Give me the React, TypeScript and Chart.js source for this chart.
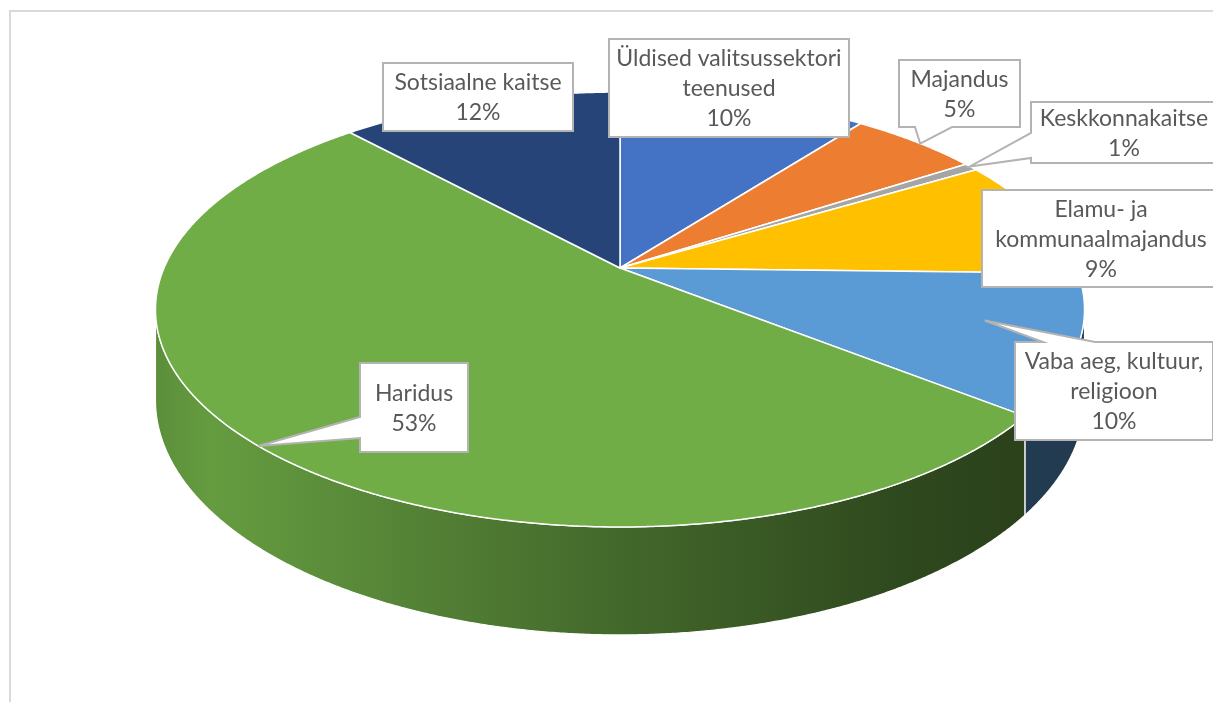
import React, { useEffect, useRef } from 'react';
import { Chart, registerables } from 'chart.js';

Chart.register(...registerables);

// ---- data (shares in %) ----
const categories = [
  'Üldised valitsussektori teenused',
  'Majandus',
  'Keskkonnakaitse',
  'Elamu- ja kommunaalmajandus',
  'Vaba aeg, kultuur, religioon',
  'Haridus',
  'Sotsiaalne kaitse',
];
const shares = [10.4, 5.4, 0.6, 9.0, 10.3, 52.5, 11.8];
const sliceColors = ['#4472C4', '#ED7D31', '#A5A5A5', '#FFC000', '#5B9BD5', '#70AD47', '#264478'];

// ---- layout / styling ----
const TILT = { kx: 1.7538, ky: 0.806, depth: 0.336, persp: 0.1908 };
const SHADE_STOPS: [number, number][] = [
  [0, 0.82], [0.06, 0.9], [0.5, 0.6], [0.8, 0.42], [0.92, 0.38], [1, 0.38],
];

type Callout = {
  x: number; y: number; w: number; h: number;
  side?: 'left' | 'top' | 'bottom';
  b1?: number; b2?: number; tipT?: number; tipR?: number;
};
const callouts: Callout[] = [
  { x: 601, y: 31, w: 240, h: 98 },
  { x: 891, y: 52, w: 121, h: 67, side: 'bottom', b1: 907, b2: 944, tipT: 0.54, tipR: 1.0 },
  { x: 1023, y: 94, w: 186, h: 61, side: 'left', b1: 125, b2: 150, tipT: 0.4, tipR: 1.0 },
  { x: 974, y: 182, w: 238, h: 97 },
  { x: 1007, y: 334, w: 198, h: 98, side: 'top', b1: 1035, b2: 1087, tipT: 0.43, tipR: 0.8 },
  { x: 352, y: 355, w: 108, h: 89, side: 'left', b1: 409, b2: 430, tipT: 0.5, tipR: 1.0 },
  { x: 375, y: 55, w: 190, h: 68 },
];
const LABEL_FONT = '23px Lato';
const LABEL_COLOR = '#595959';
const LINE_H = 30;

function hexToRgb(h: string): [number, number, number] {
  const n = parseInt(h.slice(1), 16);
  return [(n >> 16) & 255, (n >> 8) & 255, n & 255];
}

function project(cx: number, cy: number, R: number, a: number, r: number, dz: number): [number, number] {
  const u = r * Math.cos(a);
  const v = r * Math.sin(a);
  const d = 1 - TILT.persp * v;
  return [cx + (R * TILT.kx * u) / d, cy + (R * TILT.ky * v + dz * R * TILT.depth) / d];
}

function wrapText(ctx: CanvasRenderingContext2D, text: string, maxW: number): string[] {
  const words = text.split(' ');
  const lines: string[] = [];
  let cur = '';
  for (const w of words) {
    const t = cur ? cur + ' ' + w : w;
    if (cur && ctx.measureText(t).width > maxW) {
      lines.push(cur);
      cur = w;
    } else cur = t;
  }
  if (cur) lines.push(cur);
  return lines;
}

const pie3d = {
  id: 'pie3d',
  beforeDatasetsDraw(chart: any) {
    const ctx: CanvasRenderingContext2D = chart.ctx;
    const arcs = chart.getDatasetMeta(0).data;
    if (!arcs.length) return false;
    const { x: cx, y: cy, outerRadius: R } = arcs[0].getProps(['x', 'y', 'outerRadius'], true);
    const colors = chart.data.datasets[0].backgroundColor as string[];
    const p = TILT.persp;
    const lo = Math.asin(p);
    const hi = Math.PI - lo;
    const half = (R * TILT.kx) / Math.sqrt(1 - p * p);
    const xL = cx - half;
    const xR = cx + half;
    ctx.save();
    ctx.lineJoin = 'round';
    // side walls
    arcs.forEach((arc: any, i: number) => {
      const { startAngle, endAngle } = arc.getProps(['startAngle', 'endAngle'], true);
      const s = Math.max(startAngle, lo);
      const e = Math.min(endAngle, hi);
      if (e <= s) return;
      const rgb = hexToRgb(colors[i]);
      const g = ctx.createLinearGradient(xL, 0, xR, 0);
      SHADE_STOPS.forEach(([o, f]) =>
        g.addColorStop(o, `rgb(${Math.round(rgb[0] * f)},${Math.round(rgb[1] * f)},${Math.round(rgb[2] * f)})`)
      );
      const n = Math.max(2, Math.ceil((e - s) / 0.005));
      ctx.beginPath();
      for (let k = 0; k <= n; k++) {
        const a = s + ((e - s) * k) / n;
        const [X, Y] = project(cx, cy, R, a, 1, 0);
        if (k === 0) ctx.moveTo(X, Y);
        else ctx.lineTo(X, Y);
      }
      for (let k = n; k >= 0; k--) {
        const a = s + ((e - s) * k) / n;
        const [X, Y] = project(cx, cy, R, a, 1, 1);
        ctx.lineTo(X, Y);
      }
      ctx.closePath();
      ctx.fillStyle = g;
      ctx.fill();
      ctx.strokeStyle = '#ffffff';
      ctx.lineWidth = 1.2;
      ctx.stroke();
    });
    // top faces
    arcs.forEach((arc: any, i: number) => {
      const { startAngle, endAngle } = arc.getProps(['startAngle', 'endAngle'], true);
      const n = Math.max(2, Math.ceil((endAngle - startAngle) / 0.005));
      ctx.beginPath();
      ctx.moveTo(cx, cy);
      for (let k = 0; k <= n; k++) {
        const a = startAngle + ((endAngle - startAngle) * k) / n;
        const [X, Y] = project(cx, cy, R, a, 1, 0);
        ctx.lineTo(X, Y);
      }
      ctx.closePath();
      ctx.fillStyle = colors[i];
      ctx.fill();
      ctx.strokeStyle = '#ffffff';
      ctx.lineWidth = 1.5;
      ctx.stroke();
    });
    ctx.restore();
    return false;
  },
  afterDraw(chart: any) {
    const ctx: CanvasRenderingContext2D = chart.ctx;
    const arcs = chart.getDatasetMeta(0).data;
    if (!arcs.length) return;
    const { x: cx, y: cy, outerRadius: R } = arcs[0].getProps(['x', 'y', 'outerRadius'], true);
    const values = chart.data.datasets[0].data as number[];
    const total = values.reduce((a, b) => a + b, 0);
    const labels = chart.data.labels as string[];
    ctx.save();
    ctx.font = LABEL_FONT;
    arcs.forEach((arc: any, i: number) => {
      const c = callouts[i];
      if (!c) return;
      const { startAngle, endAngle } = arc.getProps(['startAngle', 'endAngle'], true);
      let tip: [number, number] | null = null;
      if (c.side) {
        const a = startAngle + (endAngle - startAngle) * (c.tipT ?? 0.5);
        tip = project(cx, cy, R, a, c.tipR ?? 1, 0);
      }
      const { x, y, w, h } = c;
      ctx.beginPath();
      ctx.moveTo(x, y);
      if (c.side === 'top' && tip) {
        ctx.lineTo(c.b1!, y);
        ctx.lineTo(tip[0], tip[1]);
        ctx.lineTo(c.b2!, y);
      }
      ctx.lineTo(x + w, y);
      ctx.lineTo(x + w, y + h);
      if (c.side === 'bottom' && tip) {
        ctx.lineTo(c.b2!, y + h);
        ctx.lineTo(tip[0], tip[1]);
        ctx.lineTo(c.b1!, y + h);
      }
      ctx.lineTo(x, y + h);
      if (c.side === 'left' && tip) {
        ctx.lineTo(x, c.b2!);
        ctx.lineTo(tip[0], tip[1]);
        ctx.lineTo(x, c.b1!);
      }
      ctx.closePath();
      ctx.fillStyle = '#ffffff';
      ctx.fill();
      ctx.strokeStyle = '#B3B3B3';
      ctx.lineWidth = 2;
      ctx.lineJoin = 'miter';
      ctx.stroke();

      const lines = wrapText(ctx, labels[i], w - 12);
      lines.push(Math.round((values[i] / total) * 100 + 1e-9) + '%');
      ctx.fillStyle = LABEL_COLOR;
      ctx.textAlign = 'center';
      ctx.textBaseline = 'middle';
      const y0 = y + h / 2 - ((lines.length - 1) * LINE_H) / 2;
      lines.forEach((ln, k) => ctx.fillText(ln, x + w / 2, y0 + k * LINE_H + 1));
    });
    ctx.restore();
  },
};

export default function App() {
  const canvasRef = useRef<HTMLCanvasElement | null>(null);

  useEffect(() => {
    if (!canvasRef.current) return;
    const chart = new Chart(canvasRef.current, {
      type: 'pie',
      data: {
        labels: categories,
        datasets: [
          {
            data: shares,
            backgroundColor: sliceColors,
            borderWidth: 0,
            hoverOffset: 0,
          },
        ],
      },
      options: {
        animation: false,
        responsive: true,
        maintainAspectRatio: false,
        events: [],
        layout: { padding: { left: 312, right: 293, top: 0, bottom: 174 } },
        plugins: {
          legend: { display: false },
          tooltip: { enabled: false },
        },
      },
      plugins: [pie3d],
    });
    return () => chart.destroy();
  }, []);

  return (
    <div style={{ position: 'relative', width: 1205, height: 694, overflow: 'hidden', background: '#ffffff' }}>
      <div
        style={{
          position: 'absolute',
          left: 1,
          top: 2,
          width: 1300,
          height: 800,
          border: '2px solid #D9D9D9',
          boxSizing: 'border-box',
        }}
      />
      <div style={{ position: 'absolute', left: 0, top: 0, width: 1205, height: 694 }}>
        <canvas ref={canvasRef} />
      </div>
    </div>
  );
}
